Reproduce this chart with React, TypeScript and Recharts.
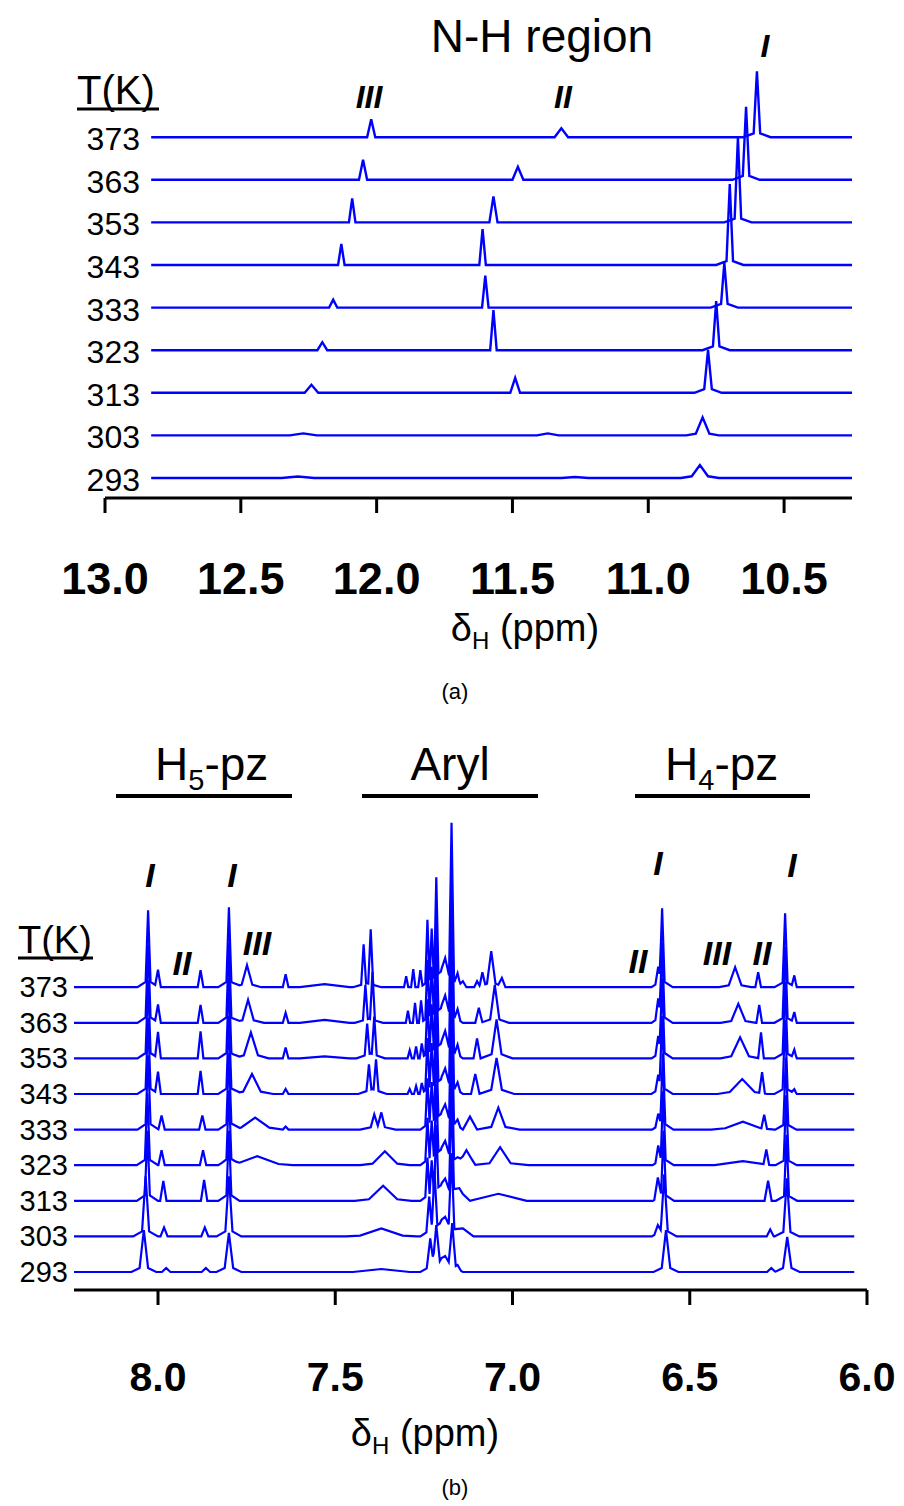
import React from 'react';
import { Line, LineChart, XAxis, YAxis } from 'recharts';

// [ppm, height, half width]
type Peak = [number, number, number];

const TEMPS = ['293', '303', '313', '323', '333', '343', '353', '363', '373'];

const NH_TICKS = [13.0, 12.5, 12.0, 11.5, 11.0, 10.5];
const ARYL_TICKS = [8.0, 7.5, 7.0, 6.5, 6.0];

// N-H region
const nh373: Peak[] = [[12.02, 18, 0.015], [11.32, 9, 0.025], [10.6, 61, 0.012], [10.6, 5, 0.05]];
const nh363: Peak[] = [[12.05, 20, 0.015], [11.48, 13, 0.02], [10.64, 68, 0.012], [10.64, 5, 0.05]];
const nh353: Peak[] = [[12.09, 24, 0.012], [11.57, 26, 0.015], [10.67, 80, 0.012], [10.67, 5, 0.05]];
const nh343: Peak[] = [[12.13, 21, 0.012], [11.61, 36, 0.012], [10.7, 76, 0.012], [10.7, 5, 0.05]];
const nh333: Peak[] = [[12.16, 8, 0.015], [11.6, 32, 0.012], [10.72, 40, 0.012], [10.72, 5, 0.05]];
const nh323: Peak[] = [[12.2, 8, 0.018], [11.57, 40, 0.012], [10.75, 44, 0.012], [10.75, 5, 0.05]];
const nh313: Peak[] = [[12.24, 8, 0.025], [11.49, 15, 0.018], [10.78, 38, 0.014], [10.78, 5, 0.05]];
const nh303: Peak[] = [[12.27, 2, 0.05], [11.37, 2, 0.04], [10.8, 15, 0.025], [10.8, 3, 0.06]];
const nh293: Peak[] = [[12.29, 1.5, 0.06], [11.27, 1, 0.05], [10.81, 10, 0.03], [10.81, 3, 0.07]];

// aromatic / pyrazole region
const ar373: Peak[] = [
  [8.028, 70, 0.007], [8.028, 7, 0.03], [8.0, 17, 0.008], [7.88, 17, 0.008], [7.8, 73, 0.007], [7.8, 7, 0.03],
  [7.749, 18, 0.015], [7.749, 4, 0.04], [7.64, 13, 0.008], [7.53, 3, 0.07],
  [7.42, 40, 0.007], [7.4, 55, 0.007], [7.41, 4, 0.04], [7.3, 11, 0.006], [7.28, 18, 0.006], [7.26, 17, 0.006],
  [7.24, 62, 0.006], [7.228, 50, 0.006], [7.215, 98, 0.006], [7.2, 16, 0.06], [7.19, 16, 0.012],
  [7.172, 156, 0.007], [7.155, 10, 0.008], [7.14, 6, 0.01], [7.1, 6, 0.008], [7.085, 13, 0.008],
  [7.06, 31, 0.012], [7.06, 5, 0.04], [7.03, 8, 0.01],
  [6.589, 16, 0.008], [6.578, 72, 0.007], [6.578, 7, 0.03], [6.372, 17, 0.018], [6.372, 3, 0.045],
  [6.307, 15, 0.008], [6.231, 68, 0.007], [6.231, 6, 0.03], [6.205, 11, 0.007],
];
const ar363: Peak[] = [
  [8.028, 71, 0.007], [8.028, 7, 0.03], [8.0, 18, 0.008], [7.88, 18, 0.008], [7.8, 73, 0.007], [7.8, 7, 0.03],
  [7.746, 19, 0.016], [7.746, 4, 0.045], [7.64, 10, 0.008], [7.53, 3, 0.07],
  [7.415, 35, 0.007], [7.395, 48, 0.007], [7.405, 4, 0.04], [7.295, 12, 0.006], [7.275, 20, 0.006], [7.258, 22, 0.006],
  [7.24, 58, 0.006], [7.228, 48, 0.006], [7.215, 92, 0.006], [7.2, 15, 0.06], [7.19, 15, 0.012],
  [7.172, 146, 0.007], [7.155, 10, 0.008], [7.095, 15, 0.01], [7.05, 33, 0.013], [7.05, 5, 0.04],
  [6.589, 20, 0.008], [6.578, 73, 0.007], [6.578, 7, 0.03], [6.363, 16, 0.02], [6.363, 3, 0.05],
  [6.304, 18, 0.008], [6.231, 70, 0.007], [6.231, 6, 0.03], [6.205, 10, 0.007],
];
const ar353: Peak[] = [
  [8.028, 71, 0.007], [8.028, 7, 0.03], [8.0, 26, 0.008], [7.88, 27, 0.008], [7.8, 73, 0.007], [7.8, 7, 0.03],
  [7.738, 21, 0.02], [7.738, 5, 0.05], [7.64, 11, 0.008], [7.53, 2, 0.07],
  [7.41, 31, 0.007], [7.39, 38, 0.007], [7.4, 5, 0.04], [7.29, 8, 0.006], [7.272, 12, 0.006], [7.256, 14, 0.006],
  [7.24, 54, 0.006], [7.228, 46, 0.006], [7.215, 86, 0.006], [7.2, 15, 0.06], [7.19, 15, 0.012],
  [7.172, 140, 0.007], [7.155, 10, 0.008], [7.1, 20, 0.01], [7.045, 33, 0.014], [7.045, 6, 0.045],
  [6.589, 18, 0.008], [6.578, 73, 0.007], [6.578, 7, 0.03], [6.358, 17, 0.025], [6.358, 4, 0.055],
  [6.299, 26, 0.008], [6.231, 70, 0.007], [6.231, 6, 0.03], [6.205, 8, 0.007],
];
const ar343: Peak[] = [
  [8.028, 69, 0.007], [8.028, 7, 0.03], [8.0, 22, 0.008], [7.88, 23, 0.008], [7.8, 71, 0.007], [7.8, 7, 0.03],
  [7.735, 16, 0.025], [7.735, 4, 0.06], [7.64, 5, 0.008],
  [7.405, 26, 0.007], [7.385, 31, 0.007], [7.395, 5, 0.04], [7.29, 5, 0.006], [7.272, 8, 0.006], [7.256, 10, 0.006],
  [7.24, 51, 0.006], [7.228, 43, 0.006], [7.215, 80, 0.006], [7.2, 15, 0.06], [7.19, 13, 0.012],
  [7.172, 130, 0.007], [7.155, 8, 0.008], [7.105, 20, 0.012], [7.045, 30, 0.015], [7.045, 6, 0.05],
  [6.589, 15, 0.008], [6.578, 71, 0.007], [6.578, 7, 0.03], [6.352, 11, 0.035], [6.352, 4, 0.07],
  [6.296, 21, 0.008], [6.231, 68, 0.007], [6.231, 6, 0.03], [6.205, 4, 0.007],
];
const ar333: Peak[] = [
  [8.028, 67, 0.007], [8.028, 7, 0.03], [7.99, 14, 0.009], [7.875, 14, 0.009], [7.8, 69, 0.007], [7.8, 7, 0.03],
  [7.726, 8, 0.04], [7.726, 4, 0.08], [7.64, 3, 0.008],
  [7.39, 12, 0.01], [7.37, 14, 0.01], [7.38, 4, 0.05],
  [7.24, 46, 0.006], [7.228, 39, 0.006], [7.215, 74, 0.006], [7.2, 16, 0.06], [7.19, 12, 0.012],
  [7.172, 119, 0.007], [7.155, 6, 0.008], [7.12, 13, 0.02], [7.04, 18, 0.02], [7.04, 4, 0.06],
  [6.589, 12, 0.008], [6.576, 69, 0.007], [6.576, 7, 0.03], [6.35, 5, 0.05], [6.35, 3, 0.09],
  [6.29, 14, 0.008], [6.229, 66, 0.007], [6.229, 6, 0.03],
];
const ar323: Peak[] = [
  [8.03, 65, 0.007], [8.03, 7, 0.03], [7.99, 15, 0.009], [7.873, 15, 0.009], [7.8, 67, 0.007], [7.8, 7, 0.03],
  [7.72, 6, 0.06], [7.72, 3, 0.1],
  [7.36, 11, 0.035], [7.36, 3, 0.07],
  [7.24, 42, 0.006], [7.228, 36, 0.006], [7.215, 69, 0.006], [7.2, 16, 0.06], [7.19, 11, 0.012],
  [7.172, 109, 0.007], [7.155, 4, 0.008], [7.13, 15, 0.025], [7.035, 15, 0.03], [7.035, 3, 0.08],
  [6.589, 16, 0.008], [6.575, 67, 0.007], [6.575, 7, 0.03], [6.35, 4, 0.08],
  [6.284, 15, 0.008], [6.228, 64, 0.007], [6.228, 6, 0.03],
];
const ar313: Peak[] = [
  [8.03, 63, 0.007], [8.03, 7, 0.03], [7.985, 20, 0.009], [7.87, 21, 0.009], [7.8, 63, 0.007], [7.8, 7, 0.03],
  [7.365, 12, 0.04], [7.365, 3, 0.08],
  [7.24, 38, 0.006], [7.228, 32, 0.006], [7.215, 64, 0.006], [7.2, 16, 0.06], [7.19, 9, 0.012],
  [7.172, 94, 0.007], [7.15, 10, 0.03], [7.04, 7, 0.08],
  [6.59, 20, 0.01], [6.574, 63, 0.007], [6.574, 7, 0.03], [6.279, 20, 0.01], [6.227, 60, 0.007], [6.227, 6, 0.03],
];
const ar303: Peak[] = [
  [8.035, 53, 0.01], [8.035, 7, 0.035], [7.983, 9, 0.01], [7.868, 9, 0.01], [7.8, 53, 0.01], [7.8, 7, 0.035],
  [7.37, 6, 0.06], [7.37, 2, 0.1],
  [7.235, 34, 0.008], [7.22, 56, 0.008], [7.2, 14, 0.06], [7.19, 8, 0.015], [7.172, 76, 0.008], [7.14, 8, 0.03],
  [6.59, 8, 0.01], [6.572, 55, 0.01], [6.572, 7, 0.035], [6.273, 7, 0.01], [6.226, 52, 0.01], [6.226, 6, 0.035],
];
const ar293: Peak[] = [
  [8.04, 36, 0.012], [8.04, 6, 0.035], [7.977, 4, 0.012], [7.865, 4, 0.012], [7.8, 33, 0.012], [7.8, 6, 0.035],
  [7.37, 3, 0.08],
  [7.232, 28, 0.01], [7.215, 38, 0.01], [7.2, 12, 0.06], [7.19, 6, 0.015], [7.17, 43, 0.01], [7.155, 4, 0.01],
  [6.567, 36, 0.012], [6.567, 6, 0.035], [6.27, 4, 0.012], [6.225, 29, 0.012], [6.225, 6, 0.035],
];

const nhSpectra = [nh293, nh303, nh313, nh323, nh333, nh343, nh353, nh363, nh373];
const arSpectra = [ar293, ar303, ar313, ar323, ar333, ar343, ar353, ar363, ar373];

const FONT = "'Liberation Sans', Arial, sans-serif";
const BLUE = '#0000ff';

// panel geometry (plot area in page px, 1 y-unit = 1 px)
const A_TOP = 40;
const A_AXIS = 498;
const A_BASE = 20;
const A_STEP = 42.6;
const B_TOP = 760;
const B_AXIS = 1290;
const B_BASE = 18;
const B_STEP = 35.6;

// tent-shaped peaks summed at their vertices
function trace(peaks: Peak[], from: number, to: number, offset: number) {
  const xs: number[] = [from, to];
  peaks.forEach(([c, , w]) => xs.push(c - w, c, c + w));
  const uniq = Array.from(new Set(xs.map((v) => +v.toFixed(4))))
    .filter((v) => v <= from && v >= to)
    .sort((a, b) => b - a);
  return uniq.map((x) => ({
    x,
    y: offset + peaks.reduce((s, [c, h, w]) => s + Math.max(0, h * (1 - Math.abs(x - c) / w)), 0),
  }));
}

function AxisTick(props: any) {
  const { x, y, payload, dy, size } = props;
  return (
    <text x={x} y={y + dy} textAnchor="middle" fontFamily={FONT} fontWeight={700} fontSize={size} fill="#000">
      {Number(payload.value).toFixed(1)}
    </text>
  );
}

function Overlay() {
  const roman = { fontFamily: FONT, fontWeight: 700, fontStyle: 'italic' as const, fill: '#000' };
  return (
    <svg width={904} height={1506} style={{ position: 'absolute', left: 0, top: 0, pointerEvents: 'none' }}>
      <g fontFamily={FONT} fill="#000">
        {/* panel (a) */}
        <text x={542} y={52} fontSize={46} textAnchor="middle">N-H region</text>
        <text x={77} y={104} fontSize={40}>T(K)</text>
        <line x1={77} x2={159} y1={109} y2={109} stroke="#000" strokeWidth={3} />
        {TEMPS.map((t, i) => (
          <text key={'a' + t} x={140} y={A_AXIS - (A_BASE + i * A_STEP) + 13} fontSize={32} textAnchor="end">{t}</text>
        ))}
        <text x={525} y={641} fontSize={38} textAnchor="middle">
          δ<tspan fontSize={24} dy={8}>H</tspan><tspan dy={-8}> (ppm)</tspan>
        </text>
        <text x={455} y={699} fontSize={22} textAnchor="middle">(a)</text>

        {/* panel (b) */}
        <text x={155} y={780} fontSize={46}>H<tspan fontSize={29} dy={10}>5</tspan><tspan dy={-10}>-pz</tspan></text>
        <text x={450} y={780} fontSize={46} textAnchor="middle">Aryl</text>
        <text x={665} y={780} fontSize={46}>H<tspan fontSize={29} dy={10}>4</tspan><tspan dy={-10}>-pz</tspan></text>
        <line x1={116} x2={292} y1={796} y2={796} stroke="#000" strokeWidth={4} />
        <line x1={362} x2={538} y1={796} y2={796} stroke="#000" strokeWidth={4} />
        <line x1={635} x2={810} y1={796} y2={796} stroke="#000" strokeWidth={4} />
        <text x={18} y={953} fontSize={38}>T(K)</text>
        <line x1={18} x2={93} y1={958} y2={958} stroke="#000" strokeWidth={3} />
        {TEMPS.map((t, i) => (
          <text key={'b' + t} x={68} y={B_AXIS - (B_BASE + i * B_STEP) + 10} fontSize={29} textAnchor="end">{t}</text>
        ))}
        <text x={425} y={1446} fontSize={38} textAnchor="middle">
          δ<tspan fontSize={24} dy={8}>H</tspan><tspan dy={-8}> (ppm)</tspan>
        </text>
        <text x={455} y={1495} fontSize={22} textAnchor="middle">(b)</text>
      </g>
      {/* peak family labels */}
      <g {...roman} fontSize={32} textAnchor="middle">
        <text x={369} y={108}>III</text>
        <text x={563} y={108}>II</text>
        <text x={765} y={57}>I</text>
      </g>
      <g {...roman} fontSize={34} textAnchor="middle">
        <text x={150} y={887}>I</text>
        <text x={232} y={887}>I</text>
        <text x={182} y={975}>II</text>
        <text x={257} y={955}>III</text>
        <text x={658} y={875}>I</text>
        <text x={792} y={877}>I</text>
        <text x={638} y={973}>II</text>
        <text x={717} y={965}>III</text>
        <text x={762} y={965}>II</text>
      </g>
    </svg>
  );
}

export default function App() {
  const axisStyle = { stroke: '#000', strokeWidth: 3 };
  return (
    <div style={{ position: 'absolute', left: 0, top: 0, width: 904, height: 1506, background: '#fff' }}>
      <div style={{ position: 'absolute', left: 0, top: 0 }}>
        <LineChart width={904} height={620} margin={{ top: A_TOP, right: 52, bottom: 0, left: 105 }}>
          <XAxis
            dataKey="x"
            type="number"
            domain={[10.25, 13]}
            reversed
            allowDataOverflow
            ticks={NH_TICKS}
            interval={0}
            height={620 - A_AXIS}
            tickSize={15}
            tickMargin={2}
            axisLine={axisStyle}
            tickLine={axisStyle}
            tick={(p: any) => <AxisTick {...p} dy={79} size={45} />}
          />
          <YAxis hide width={0} type="number" domain={[0, A_AXIS - A_TOP]} allowDataOverflow />
          {nhSpectra.map((peaks, i) => (
            <Line
              key={TEMPS[i]}
              data={trace(peaks, 12.83, 10.25, A_BASE + i * A_STEP)}
              dataKey="y"
              type="linear"
              stroke={BLUE}
              strokeWidth={2.4}
              dot={false}
              isAnimationActive={false}
            />
          ))}
        </LineChart>
      </div>
      <div style={{ position: 'absolute', left: 0, top: B_TOP }}>
        <LineChart width={904} height={660} margin={{ top: 40, right: 37, bottom: 0, left: 74 }}>
          <XAxis
            dataKey="x"
            type="number"
            domain={[6.0, 8.237]}
            reversed
            allowDataOverflow
            ticks={ARYL_TICKS}
            interval={0}
            height={660 - (B_AXIS - B_TOP)}
            tickSize={15}
            tickMargin={2}
            axisLine={axisStyle}
            tickLine={axisStyle}
            tick={(p: any) => <AxisTick {...p} dy={84} size={41} />}
          />
          <YAxis hide width={0} type="number" domain={[0, B_AXIS - B_TOP - 40]} allowDataOverflow />
          {arSpectra.map((peaks, i) => (
            <Line
              key={TEMPS[i]}
              data={trace(peaks, 8.237, 6.036, B_BASE + i * B_STEP)}
              dataKey="y"
              type="linear"
              stroke={BLUE}
              strokeWidth={2.2}
              dot={false}
              isAnimationActive={false}
            />
          ))}
        </LineChart>
      </div>
      <Overlay />
    </div>
  );
}
